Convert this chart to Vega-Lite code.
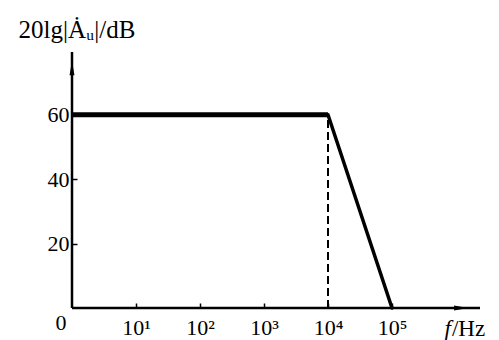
{
  "$schema": "https://vega.github.io/schema/vega-lite/v6.json",
  "width": 408,
  "height": 256,
  "autosize": {"type": "none"},
  "padding": {"left": 72, "top": 52, "right": 19, "bottom": 32},
  "config": {"view": {"stroke": null}, "font": "Liberation Serif"},
  "datasets": {
    "flat": [{"f": 0, "g": 60}, {"f": 4, "g": 60}],
    "slope": [{"f": 4, "g": 60}, {"f": 5, "g": 0}],
    "dash": [{"f": 4, "g": 0}, {"f": 4, "g": 60}],
    "yaxis": [{"f": 0, "g": 0}, {"f": 0, "g": 79.5}],
    "xaxis": [{"f": 0, "g": 0}, {"f": 6.375, "g": 0}],
    "arrows": [{"f": 0, "g": 74.5, "dir": "up"}, {"f": 6.08, "g": 0, "dir": "right"}],
    "texts": [
      {"f": 0, "g": 0, "t": "0", "kind": "origin"},
      {"f": 5.92, "g": 0, "t": "f", "kind": "fitalic"},
      {"f": 5.92, "g": 0, "t": "/Hz", "kind": "hz"},
      {"f": 0, "g": 86.3, "t": "20lg|Ȧᵤ|/dB", "kind": "title"}
    ]
  },
  "layer": [
    {
      "data": {"name": "xaxis"},
      "mark": {"type": "line", "color": "black", "strokeWidth": 2.5},
      "encoding": {
        "x": {
          "field": "f", "type": "quantitative",
          "scale": {"domain": [0, 6.375], "nice": false, "zero": false},
          "axis": {
            "values": [1, 2, 3, 4, 5],
            "domain": false,
            "grid": false,
            "ticks": true,
            "tickSize": -5,
            "tickColor": "black",
            "tickWidth": 1.5,
            "labelFontSize": 22,
            "labelColor": "black",
            "labelPadding": 14,
            "labelFont": "Liberation Serif",
            "labelExpr": "datum.value == 1 ? '10¹' : datum.value == 2 ? '10²' : datum.value == 3 ? '10³' : datum.value == 4 ? '10⁴' : '10⁵'",
            "title": null
          }
        },
        "y": {
          "field": "g", "type": "quantitative",
          "scale": {"domain": [0, 79.5], "nice": false},
          "axis": {
            "values": [20, 40, 60],
            "domain": false,
            "grid": false,
            "tickSize": -5,
            "tickColor": "black",
            "tickWidth": 1.5,
            "labelFontSize": 22,
            "labelColor": "black",
            "labelPadding": 8,
            "labelFont": "Liberation Serif",
            "title": null
          }
        }
      }
    },
    {
      "data": {"name": "yaxis"},
      "mark": {"type": "line", "color": "black", "strokeWidth": 2.5},
      "encoding": {
        "x": {"field": "f", "type": "quantitative"},
        "y": {"field": "g", "type": "quantitative"}
      }
    },
    {
      "data": {"name": "dash"},
      "mark": {"type": "line", "color": "black", "strokeWidth": 2, "strokeDash": [8, 4]},
      "encoding": {
        "x": {"field": "f", "type": "quantitative"},
        "y": {"field": "g", "type": "quantitative"}
      }
    },
    {
      "data": {"name": "flat"},
      "mark": {"type": "line", "color": "black", "strokeWidth": 5},
      "encoding": {
        "x": {"field": "f", "type": "quantitative"},
        "y": {"field": "g", "type": "quantitative"}
      }
    },
    {
      "data": {"name": "slope"},
      "mark": {"type": "line", "color": "black", "strokeWidth": 3.5, "strokeCap": "round"},
      "encoding": {
        "x": {"field": "f", "type": "quantitative"},
        "y": {"field": "g", "type": "quantitative"}
      }
    },
    {
      "data": {"name": "arrows"},
      "transform": [{"filter": "datum.dir == 'up'"}],
      "mark": {"type": "point", "filled": true, "color": "black", "opacity": 1, "shape": "M-0.35,1 L0,-1 L0.35,1 Z", "size": 200},
      "encoding": {
        "x": {"field": "f", "type": "quantitative"},
        "y": {"field": "g", "type": "quantitative"}
      }
    },
    {
      "data": {"name": "arrows"},
      "transform": [{"filter": "datum.dir == 'right'"}],
      "mark": {"type": "point", "filled": true, "color": "black", "opacity": 1, "shape": "M-1,-0.35 L1,0 L-1,0.35 Z", "size": 200},
      "encoding": {
        "x": {"field": "f", "type": "quantitative"},
        "y": {"field": "g", "type": "quantitative"}
      }
    },
    {
      "data": {"name": "texts"},
      "transform": [{"filter": "datum.kind == 'origin'"}],
      "mark": {"type": "text", "fontSize": 22, "color": "black", "align": "center", "baseline": "alphabetic", "dx": -11, "dy": 22, "font": "Liberation Serif"},
      "encoding": {
        "x": {"field": "f", "type": "quantitative"},
        "y": {"field": "g", "type": "quantitative"},
        "text": {"field": "t"}
      }
    },
    {
      "data": {"name": "texts"},
      "transform": [{"filter": "datum.kind == 'fitalic'"}],
      "mark": {"type": "text", "fontSize": 23, "color": "black", "align": "right", "baseline": "alphabetic", "dy": 28, "fontStyle": "italic", "font": "Liberation Serif"},
      "encoding": {
        "x": {"field": "f", "type": "quantitative"},
        "y": {"field": "g", "type": "quantitative"},
        "text": {"field": "t"}
      }
    },
    {
      "data": {"name": "texts"},
      "transform": [{"filter": "datum.kind == 'hz'"}],
      "mark": {"type": "text", "fontSize": 23, "color": "black", "align": "left", "baseline": "alphabetic", "dx": 1, "dy": 28, "font": "Liberation Serif"},
      "encoding": {
        "x": {"field": "f", "type": "quantitative"},
        "y": {"field": "g", "type": "quantitative"},
        "text": {"field": "t"}
      }
    },
    {
      "data": {"name": "texts"},
      "transform": [{"filter": "datum.kind == 'title'"}],
      "mark": {"type": "text", "fontSize": 25, "color": "black", "align": "center", "baseline": "middle", "dx": 5, "font": "Liberation Serif"},
      "encoding": {
        "x": {"field": "f", "type": "quantitative"},
        "y": {"field": "g", "type": "quantitative"},
        "text": {"field": "t"}
      }
    }
  ]
}
